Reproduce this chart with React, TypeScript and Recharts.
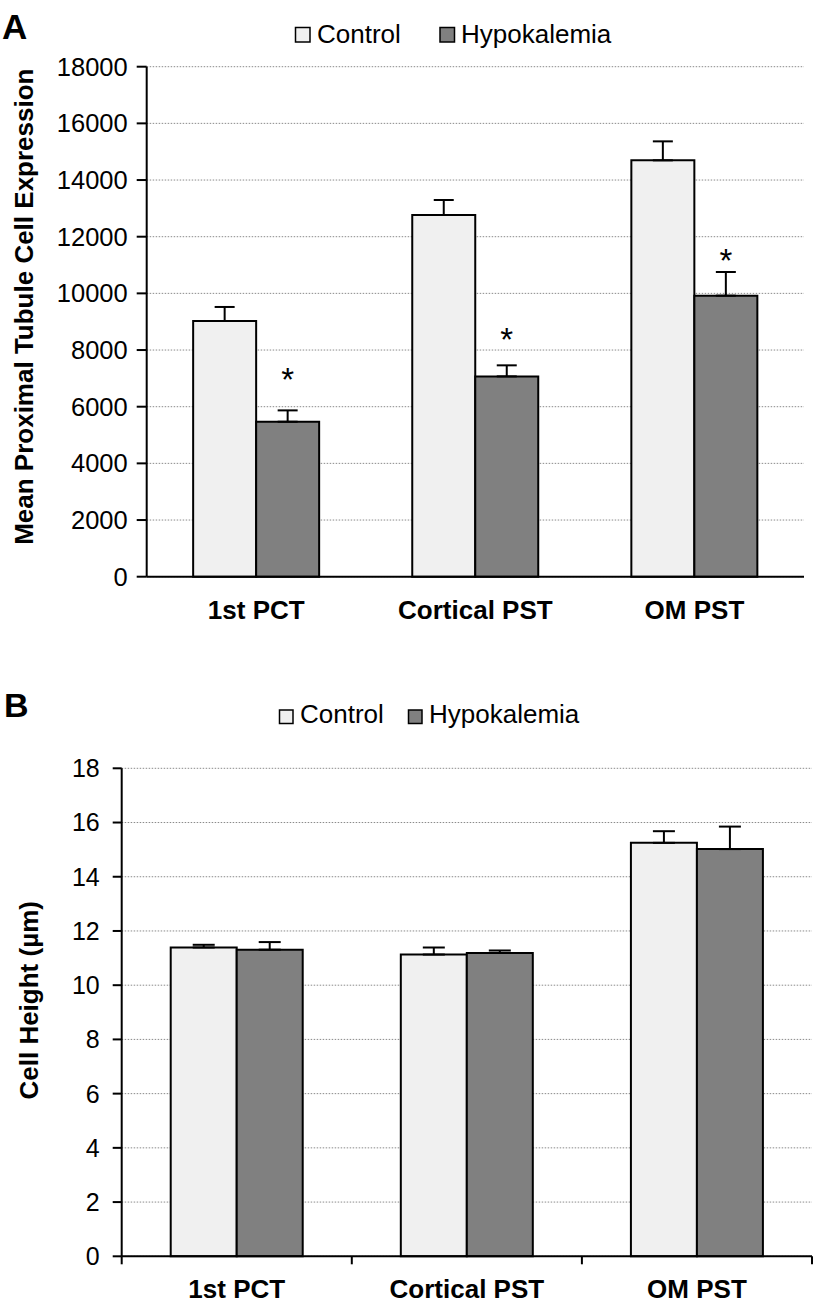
import React from "react";
import { BarChart, Bar, XAxis, YAxis, CartesianGrid, ErrorBar, LabelList } from "recharts";

// shared categories
const categories = ["1st PCT", "Cortical PST", "OM PST"];

// panel A: mean proximal tubule cell expression
const expressionControl = [9025, 12765, 14695];
const expressionControlErr = [495, 530, 670];
const expressionHypo = [5470, 7070, 9920];
const expressionHypoErr = [400, 390, 835];
const expressionStar = [7235, 8647, 11414];
const expressionTicks = [0, 2000, 4000, 6000, 8000, 10000, 12000, 14000, 16000, 18000];

// panel B: cell height (µm)
const heightControl = [11.39, 11.13, 15.25];
const heightControlErr = [0.1, 0.26, 0.43];
const heightHypo = [11.31, 11.19, 15.02];
const heightHypoErr = [0.28, 0.09, 0.83];
const heightTicks = [0, 2, 4, 6, 8, 10, 12, 14, 16, 18];

const FONT = "'Liberation Sans', Arial, Helvetica, sans-serif";
const CONTROL_FILL = "#f0f0f0";
const HYPO_FILL = "#808080";

const expressionData = categories.map((name, i) => ({
  name,
  control: expressionControl[i],
  hypo: expressionHypo[i],
  controlErr: [0, expressionControlErr[i]],
  hypoErr: [0, expressionHypoErr[i]],
  star: expressionStar[i],
}));

const heightData = categories.map((name, i) => ({
  name,
  control: heightControl[i],
  hypo: heightHypo[i],
  controlErr: [0, heightControlErr[i]],
  hypoErr: [0, heightHypoErr[i]],
}));

const YTitle = (props: any) => {
  const vb = props.viewBox || {};
  const cy = vb.y + vb.height / 2 + props.shift;
  return (
    <text
      transform={`translate(${props.baseX}, ${cy}) rotate(-90)`}
      textAnchor="middle"
      fontSize={26}
      fontWeight="bold"
      fill="#000"
    >
      {props.text}
    </text>
  );
};

const TickA = (props: any) => {
  const { x, y, payload } = props;
  return (
    <text x={x} y={y + 42.6} textAnchor="middle" fontSize={26} fontWeight="bold" fill="#000">
      {payload.value}
    </text>
  );
};

const TickB = (props: any) => {
  const { x, y, payload, index, visibleTicksCount } = props;
  const half = payload.offset || 0;
  const last = index === (visibleTicksCount ?? 3) - 1;
  return (
    <g>
      <line x1={x - half} x2={x - half} y1={y} y2={y + 8} stroke="#000" strokeWidth={2} />
      {last && <line x1={x + half} x2={x + half} y1={y} y2={y + 8} stroke="#000" strokeWidth={2} />}
      <text x={x} y={y + 41.7} textAnchor="middle" fontSize={26} fontWeight="bold" fill="#000">
        {payload.value}
      </text>
    </g>
  );
};

// asterisk placed at the value in expressionStar, using the bar's own pixel scale
const StarLabel = (props: any) => {
  const vb = props.viewBox || props;
  const { x, y, width, height } = vb;
  const i = props.index;
  if (i == null || !height) return null;
  const perUnit = height / expressionHypo[i];
  const cy = y + height - expressionStar[i] * perUnit;
  return (
    <text x={x + width / 2} y={cy + 19} textAnchor="middle" fontSize={33} fill="#000">
      *
    </text>
  );
};

const LegendSwatch = ({ x, y, size, fill, label, textX, baseline }: any) => (
  <g>
    <rect x={x} y={y} width={size} height={size} fill={fill} stroke="#000" strokeWidth={1.5} />
    <text x={textX} y={baseline} fontSize={26} fill="#000">
      {label}
    </text>
  </g>
);

export default function App() {
  return (
    <div
      style={{
        position: "absolute",
        left: 0,
        top: 0,
        width: 815,
        height: 1311,
        background: "#fff",
        fontFamily: FONT,
      }}
    >
      <div style={{ position: "absolute", left: 0, top: 0 }}>
        <BarChart
          width={815}
          height={660}
          data={expressionData}
          margin={{ top: 66.7, right: 11, bottom: 23.3, left: 0 }}
          barCategoryGap="21.2%"
          barGap={0}
        >
          <CartesianGrid vertical={false} stroke="#8a8a8a" strokeDasharray="1.5 1.5" />
          <XAxis
            dataKey="name"
            height={60}
            axisLine={{ stroke: "#000", strokeWidth: 2 }}
            tickLine={false}
            tickSize={0}
            tickMargin={0}
            tick={<TickA />}
            interval={0}
          />
          <YAxis
            width={146.7}
            domain={[0, 18000]}
            ticks={expressionTicks}
            interval={0}
            axisLine={{ stroke: "#000", strokeWidth: 2 }}
            tickLine={{ stroke: "#000", strokeWidth: 2 }}
            tickSize={10}
            tickMargin={9}
            tick={{ fill: "#000", fontSize: 25.5 }}
            label={<YTitle text="Mean Proximal Tubule Cell Expression" baseX={33} shift={-15} />}
          />
          <Bar dataKey="control" fill={CONTROL_FILL} stroke="#000" strokeWidth={2} isAnimationActive={false}>
            <ErrorBar dataKey="controlErr" width={10} stroke="#000" strokeWidth={2} />
          </Bar>
          <Bar dataKey="hypo" fill={HYPO_FILL} stroke="#000" strokeWidth={2} isAnimationActive={false}>
            <ErrorBar dataKey="hypoErr" width={10} stroke="#000" strokeWidth={2} />
            <LabelList dataKey="star" content={<StarLabel />} />
          </Bar>
        </BarChart>
      </div>

      <div style={{ position: "absolute", left: 0, top: 680 }}>
        <BarChart
          width={815}
          height={631}
          data={heightData}
          margin={{ top: 88.3, right: 3, bottom: 4.7, left: 0 }}
          barCategoryGap="21.3%"
          barGap={0}
        >
          <CartesianGrid vertical={false} stroke="#8a8a8a" strokeDasharray="1.5 1.5" />
          <XAxis
            dataKey="name"
            height={50}
            axisLine={{ stroke: "#000", strokeWidth: 2 }}
            tickLine={false}
            tickSize={0}
            tickMargin={0}
            tick={<TickB />}
            interval={0}
          />
          <YAxis
            width={121.7}
            domain={[0, 18]}
            ticks={heightTicks}
            interval={0}
            axisLine={{ stroke: "#000", strokeWidth: 2 }}
            tickLine={{ stroke: "#000", strokeWidth: 2 }}
            tickSize={9}
            tickMargin={13}
            tick={{ fill: "#000", fontSize: 25 }}
            label={<YTitle text="Cell Height (µm)" baseX={38} shift={-12} />}
          />
          <Bar dataKey="control" fill={CONTROL_FILL} stroke="#000" strokeWidth={2} isAnimationActive={false}>
            <ErrorBar dataKey="controlErr" width={11} stroke="#000" strokeWidth={2} />
          </Bar>
          <Bar dataKey="hypo" fill={HYPO_FILL} stroke="#000" strokeWidth={2} isAnimationActive={false}>
            <ErrorBar dataKey="hypoErr" width={11} stroke="#000" strokeWidth={2} />
          </Bar>
        </BarChart>
      </div>

      {/* panel letters and legends */}
      <svg
        width={815}
        height={1311}
        style={{ position: "absolute", left: 0, top: 0, pointerEvents: "none", fontFamily: FONT }}
      >
        <text x={2} y={39} fontSize={35} fontWeight="bold" fill="#000">A</text>
        <LegendSwatch x={295.5} y={27.5} size={14.5} fill={CONTROL_FILL} label="Control" textX={317} baseline={42.7} />
        <LegendSwatch x={440} y={27.5} size={14.5} fill={HYPO_FILL} label="Hypokalemia" textX={461} baseline={42.7} />

        <text x={4} y={717} fontSize={34} fontWeight="bold" fill="#000">B</text>
        <LegendSwatch x={279.5} y={710} size={13.5} fill={CONTROL_FILL} label="Control" textX={300} baseline={723.3} />
        <LegendSwatch x={408.5} y={710} size={13.5} fill={HYPO_FILL} label="Hypokalemia" textX={429} baseline={723.3} />
      </svg>
    </div>
  );
}
